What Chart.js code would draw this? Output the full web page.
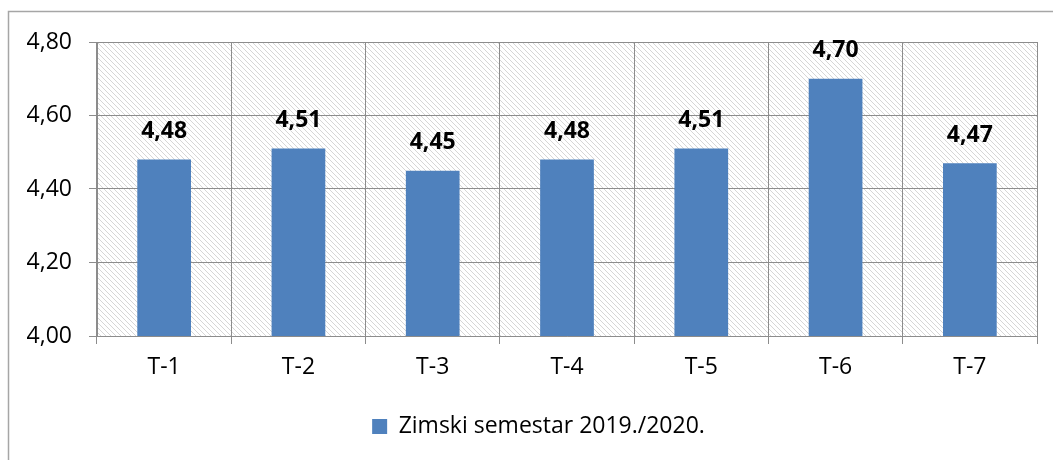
<!DOCTYPE html>
<html>
<head>
<meta charset="utf-8">
<script src="https://cdn.jsdelivr.net/npm/chart.js@4"></script>
<style>
  html, body { margin: 0; padding: 0; background: #fff; }
  #wrap { width: 1053px; height: 460px; }
</style>
</head>
<body>
<div id="wrap"><canvas id="chart" width="1053" height="460"></canvas></div>
<script>
const categories = ['T-1', 'T-2', 'T-3', 'T-4', 'T-5', 'T-6', 'T-7'];
const seriesName = 'Zimski semestar 2019./2020.';
const values = [4.48, 4.51, 4.45, 4.48, 4.51, 4.70, 4.47];
const yTicks = [4.00, 4.20, 4.40, 4.60, 4.80];

const fontFamily = '"Open Sans", Lato, sans-serif';
const fmt = v => v.toFixed(2).replace('.', ',');

// diagonal hatch for the plot area
function makeHatch() {
    const s = 5;
    const c = document.createElement('canvas');
    c.width = s;
    c.height = s;
    const g = c.getContext('2d');
    g.fillStyle = '#fff';
    g.fillRect(0, 0, s, s);
    g.strokeStyle = '#d6d6d6';
    g.lineWidth = 1;
    g.beginPath();
    g.moveTo(-1, -1); g.lineTo(s + 1, s + 1);
    g.moveTo(-1, s - 1); g.lineTo(1, s + 1);
    g.moveTo(s - 1, -1); g.lineTo(s + 1, 1);
    g.stroke();
    return c;
}

const framePlugin = {
    id: 'frame',
    afterLayout(chart) {
        // the original legend sits a little right of centre
        if (chart.legend) {
            chart.legend.left += 20;
            chart.legend.right += 20;
        }
    },
    beforeDraw(chart) {
        const ctx = chart.ctx;
        const a = chart.chartArea;
        ctx.save();
        ctx.fillStyle = ctx.createPattern(makeHatch(), 'repeat');
        ctx.fillRect(a.left, a.top, a.right - a.left, a.bottom - a.top);
        // outer chart border (cut off on right and bottom)
        ctx.strokeStyle = '#a6a6a6';
        ctx.lineWidth = 1.5;
        ctx.beginPath();
        ctx.moveTo(8.5, 470);
        ctx.lineTo(8.5, 11.5);
        ctx.lineTo(1060, 11.5);
        ctx.stroke();
        ctx.restore();
    }
};

const valueLabels = {
    id: 'valueLabels',
    afterDatasetsDraw(chart) {
        const ctx = chart.ctx;
        const meta = chart.getDatasetMeta(0);
        ctx.save();
        ctx.font = 'bold 23px ' + fontFamily;
        ctx.fillStyle = '#000';
        ctx.textAlign = 'center';
        ctx.textBaseline = 'middle';
        meta.data.forEach((bar, i) => {
            ctx.fillText(fmt(values[i]), bar.x, bar.y - 28);
        });
        ctx.restore();
    }
};

new Chart(document.getElementById('chart'), {
    type: 'bar',
    data: {
        labels: categories,
        datasets: [{
            label: seriesName,
            data: values,
            backgroundColor: '#4F81BD',
            borderWidth: 0,
            barPercentage: 0.4,
            categoryPercentage: 1
        }]
    },
    options: {
        responsive: false,
        animation: false,
        layout: { padding: { top: 42, right: 16, left: 0, bottom: 12 } },
        plugins: {
            legend: {
                position: 'bottom',
                labels: {
                    color: '#000',
                    font: { family: fontFamily, size: 23 },
                    boxWidth: 15,
                    boxHeight: 15,
                    padding: 9
                }
            },
            tooltip: { enabled: false }
        },
        scales: {
            x: {
                grid: { color: '#8c8c8c', lineWidth: 1, tickLength: 8, offset: true },
                border: { color: '#8c8c8c' },
                ticks: { color: '#000', font: { family: fontFamily, size: 23 }, padding: 10 },
                afterFit(scale) { scale.height = 70; }
            },
            y: {
                min: 4.0,
                max: 4.8,
                afterBuildTicks(scale) { scale.ticks = yTicks.map(v => ({ value: v })); },
                grid: { color: '#8c8c8c', lineWidth: 1, tickLength: 8 },
                border: { color: '#8c8c8c' },
                ticks: {
                    color: '#000',
                    font: { family: fontFamily, size: 23 },
                    padding: 17,
                    callback: v => fmt(v)
                },
                afterFit(scale) { scale.width = 97; }
            }
        }
    },
    plugins: [framePlugin, valueLabels]
});
</script>
</body>
</html>
